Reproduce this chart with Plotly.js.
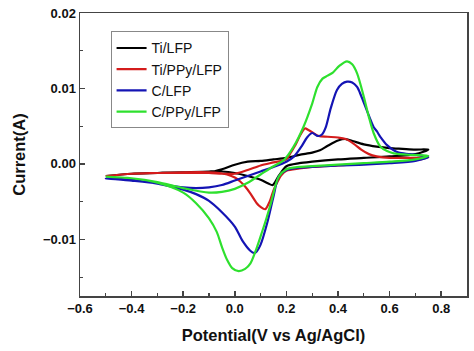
<!DOCTYPE html>
<html>
<head>
<meta charset="utf-8">
<script src="https://cdn.plot.ly/plotly-3.0.1.min.js"></script>
<style>html,body{margin:0;padding:0;background:#fff;}#chart{width:474px;height:351px;}</style>
</head>
<body>
<div id="chart"></div>
<script>
// Ti/LFP (black)
const tiLfpX = [-0.5,-0.4,-0.3,-0.2,-0.1,-0.05,0.0,0.05,0.1,0.15,0.2,0.25,0.3,0.33,0.36,0.4,0.43,0.46,0.5,0.55,0.6,0.65,0.7,0.75,
  0.7,0.6,0.5,0.4,0.3,0.25,0.2,0.17,0.147,0.13,0.1,0.05,0.0,-0.05,-0.1,-0.2,-0.3,-0.4,-0.5];
const tiLfpY = [-0.0016,-0.0013,-0.0012,-0.0012,-0.0011,-0.0007,-0.0001,0.0003,0.0004,0.0006,0.0008,0.0012,0.0015,0.0018,0.0024,0.0031,0.0033,0.0030,0.0026,0.0023,0.0021,0.0020,0.0019,0.0019,
  0.0013,0.0010,0.0008,0.0006,0.0003,0.0001,-0.0003,-0.0016,-0.0028,-0.0026,-0.0021,-0.0016,-0.0012,-0.0010,-0.0010,-0.0011,-0.0012,-0.0013,-0.0016];

// Ti/PPy/LFP (red)
const tiPpyX = [-0.5,-0.4,-0.3,-0.2,-0.1,-0.05,0.0,0.05,0.1,0.15,0.2,0.215,0.235,0.255,0.272,0.285,0.3,0.325,0.36,0.4,0.43,0.46,0.49,0.52,0.55,0.6,0.65,0.7,0.75,
  0.7,0.6,0.5,0.4,0.3,0.25,0.2,0.18,0.165,0.15,0.135,0.118,0.1,0.085,0.06,0.04,0.02,0.0,-0.03,-0.06,-0.1,-0.2,-0.3,-0.4,-0.5];
const tiPpyY = [-0.0016,-0.0013,-0.0012,-0.0012,-0.0012,-0.0013,-0.0013,-0.0008,-0.0002,0.0002,0.0006,0.0014,0.0025,0.0039,0.0047,0.0045,0.0042,0.0037,0.0036,0.0035,0.0033,0.0027,0.0019,0.0013,0.0010,0.0008,0.0008,0.0008,0.0009,
  0.0005,0.0002,0.0,-0.0002,-0.0004,-0.0006,-0.0009,-0.0015,-0.0024,-0.0035,-0.0050,-0.0060,-0.0057,-0.0052,-0.0039,-0.0030,-0.0023,-0.0018,-0.0014,-0.0012,-0.0011,-0.0011,-0.0012,-0.0013,-0.0016];

// C/LFP (blue)
const cLfpX = [-0.5,-0.4,-0.3,-0.2,-0.15,-0.1,-0.05,0.0,0.05,0.1,0.15,0.2,0.23,0.26,0.28,0.3,0.322,0.338,0.352,0.372,0.396,0.415,0.435,0.455,0.474,0.49,0.506,0.522,0.538,0.551,0.564,0.59,0.635,0.68,0.75,
  0.7,0.6,0.5,0.4,0.3,0.25,0.2,0.17,0.15,0.125,0.1,0.085,0.075,0.06,0.03,0.0,-0.05,-0.1,-0.15,-0.2,-0.3,-0.4,-0.5];
const cLfpY = [-0.0019,-0.0021,-0.0026,-0.0031,-0.0032,-0.0031,-0.0028,-0.0022,-0.0016,-0.0010,-0.0004,0.0003,0.0010,0.0024,0.0035,0.0041,0.0037,0.0039,0.0048,0.0074,0.0098,0.0106,0.0109,0.0108,0.0102,0.0090,0.0076,0.0062,0.0049,0.0043,0.0036,0.0025,0.0015,0.0013,0.0009,
  0.0004,0.0001,-0.0001,-0.0002,-0.0004,-0.0005,-0.0008,-0.0017,-0.0043,-0.0079,-0.0107,-0.0116,-0.0118,-0.0115,-0.0102,-0.0083,-0.0064,-0.0049,-0.0040,-0.0034,-0.0026,-0.0022,-0.0019];

// C/PPy/LFP (green)
const cPpyX = [-0.5,-0.4,-0.3,-0.2,-0.1,-0.05,0.0,0.05,0.1,0.15,0.19,0.228,0.266,0.3,0.32,0.34,0.36,0.38,0.405,0.435,0.455,0.474,0.5,0.519,0.538,0.564,0.59,0.616,0.68,0.75,
  0.7,0.6,0.5,0.4,0.3,0.25,0.2,0.17,0.14,0.12,0.1,0.08,0.06,0.04,0.015,-0.01,-0.03,-0.05,-0.07,-0.1,-0.15,-0.2,-0.3,-0.4,-0.5];
const cPpyY = [-0.0017,-0.0019,-0.0024,-0.0032,-0.0038,-0.0037,-0.0033,-0.0025,-0.0014,-0.0003,0.0005,0.0023,0.0049,0.0080,0.0102,0.0113,0.0117,0.0121,0.0130,0.0136,0.0132,0.0120,0.0089,0.0063,0.0041,0.0023,0.0017,0.0014,0.0012,0.0011,
  0.0006,0.0003,0.0001,-0.0001,-0.0003,-0.0004,-0.0007,-0.0017,-0.0052,-0.0075,-0.0096,-0.0116,-0.0132,-0.0139,-0.0142,-0.0138,-0.0127,-0.0110,-0.0090,-0.0072,-0.0052,-0.0038,-0.0025,-0.0019,-0.0017];

const seriesNames = ['Ti/LFP','Ti/PPy/LFP','C/LFP','C/PPy/LFP'];
const seriesColors = ['#000000','#d41c1c','#1414b4','#2ee02e'];
const seriesX = [tiLfpX, tiPpyX, cLfpX, cPpyX];
const seriesY = [tiLfpY, tiPpyY, cLfpY, cPpyY];

const traces = seriesNames.map((n,i)=>({
  x: seriesX[i], y: seriesY[i], name: n, type:'scatter', mode:'lines',
  line:{color: seriesColors[i], width:2.2, shape:'spline', smoothing:0.8}
}));

const axisCommon = {
  showline:true, mirror:true, linecolor:'#444', linewidth:1.5,
  ticks:'inside', ticklen:5, tickwidth:1.5, tickcolor:'#444',
  showgrid:false, zeroline:false,
  tickfont:{family:'Liberation Sans, Arial, sans-serif', size:13, color:'#111', weight:'bold'}
};

const layout = {
  width:474, height:351,
  margin:{l:80, r:7, t:13, b:55},
  paper_bgcolor:'#fff', plot_bgcolor:'#fff',
  showlegend:true,
  xaxis: Object.assign({}, axisCommon, {
    range:[-0.6,0.9], dtick:0.2, tick0:0, tickformat:'.1f',
    minor:{dtick:0.1, ticks:'inside', ticklen:3, tickwidth:1.2, tickcolor:'#444'},
    title:{text:'Potential(V vs Ag/AgCl)', standoff:14,
      font:{family:'Liberation Sans, Arial, sans-serif', size:16.5, color:'#111', weight:'bold'}}
  }),
  yaxis: Object.assign({}, axisCommon, {
    range:[-0.0175,0.02], dtick:0.01, tick0:0, tickformat:'.2f',
    minor:{dtick:0.005, ticks:'inside', ticklen:3, tickwidth:1.2, tickcolor:'#444'},
    title:{text:'Current(A)', standoff:13,
      font:{family:'Liberation Sans, Arial, sans-serif', size:16.5, color:'#111', weight:'bold'}}
  }),
  legend:{x:0.079, y:0.935, xanchor:'left', yanchor:'top',
    bgcolor:'#fff', bordercolor:'#888', borderwidth:1,
    font:{family:'Liberation Sans, Arial, sans-serif', size:14, color:'#111'}}
};

Plotly.newPlot('chart', traces, layout, {staticPlot:true, displayModeBar:false});
</script>
</body>
</html>
